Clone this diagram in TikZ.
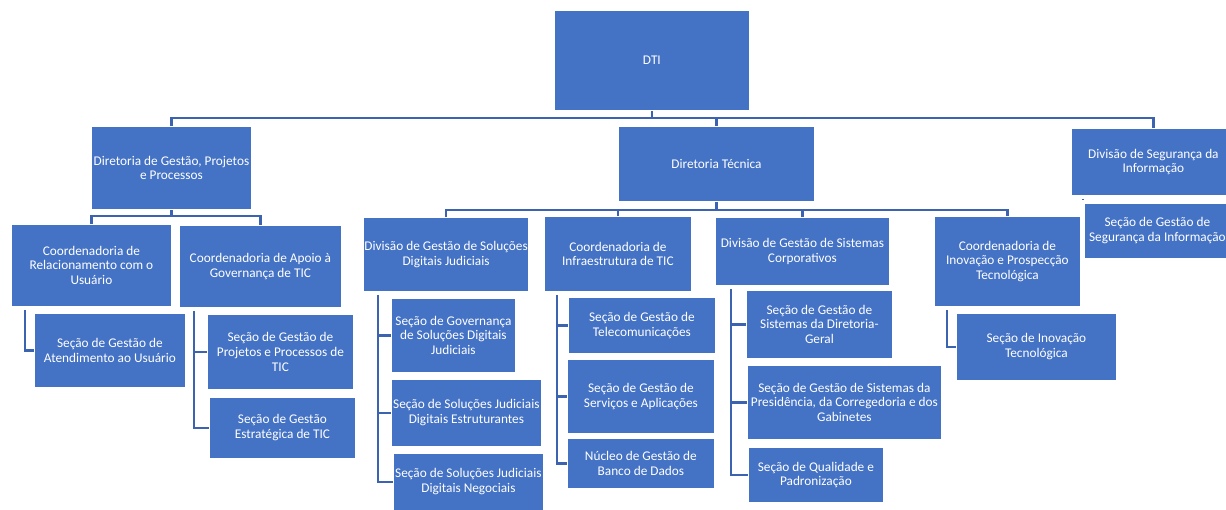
\documentclass[tikz,border=0pt]{standalone}
\usepackage{fontspec}
\setmainfont{Carlito}
\definecolor{boxblue}{HTML}{4472C4}
\definecolor{connblue}{HTML}{3B63AF}
\tikzset{
  box/.style={draw=white, line width=0.8pt, fill=boxblue, text=white, align=center,
    inner sep=1pt, anchor=north west, font=\fontsize{13.3}{14.8}\selectfont},
  conn/.style={draw=connblue, line width=2.2pt}
}
\newcommand\bx[6]{\node[box, minimum width=#4pt, minimum height=#5pt] (#1) at (#2,#3) {#6};}
\begin{document}
\begin{tikzpicture}[x=1pt,y=-1pt]
\useasboundingbox (0,0) rectangle (1226,509);
\fill[white] (0,0) rectangle (1226,509);
\clip (0,0) rectangle (1226,509);
% level 1
\bx{dti}{554}{10}{195}{100}{DTI}
% level 2
\bx{dg}{91}{126}{160}{83}{Diretoria de Gestão, Projetos\\e Processos}
\bx{dt}{618}{126}{196}{75}{Diretoria Técnica}
\bx{ds}{1071}{128}{164}{67}{Divisão de Segurança da\\Informação}
% under Diretoria de Gestão
\bx{cr}{11}{224}{160}{82}{Coordenadoria de\\Relacionamento com o\\Usuário}
\bx{ca}{179}{225}{162}{82}{Coordenadoria de Apoio à\\Governança de TIC}
\bx{sa}{34}{313}{151}{74}{Seção de Gestão de\\Atendimento ao Usuário}
\bx{sp}{207}{314}{146}{75}{Seção de Gestão de\\Projetos e Processos de\\TIC}
\bx{se}{209}{397}{146}{61}{Seção de Gestão\\Estratégica de TIC}
% under Diretoria Técnica
\bx{dj}{363}{217}{165}{74}{Divisão de Gestão de Soluções\\Digitais Judiciais}
\bx{ci}{544}{216}{147}{75}{Coordenadoria de\\Infraestrutura de TIC}
\bx{dc}{715}{217}{174}{68}{Divisão de Gestão de Sistemas\\Corporativos}
\bx{cp}{934}{216}{146}{90}{Coordenadoria de\\Inovação e Prospecção\\Tecnológica}
\bx{sg}{391}{298}{124}{74}{Seção de Governança\\de Soluções Digitais\\Judiciais}
\bx{sj}{391}{379}{150}{67}{Seção de Soluções Judiciais\\Digitais Estruturantes}
\bx{sn}{393}{453}{150}{57}{Seção de Soluções Judiciais\\Digitais Negociais}
\bx{st}{568}{297}{147}{56}{Seção de Gestão de\\Telecomunicações}
\bx{sv}{567}{359}{147}{74}{Seção de Gestão de\\Serviços e Aplicações}
\bx{nb}{567}{438}{147}{50}{Núcleo de Gestão de\\Banco de Dados}
\bx{sd}{746}{290}{146}{68}{Seção de Gestão de\\Sistemas da Diretoria-\\Geral}
\bx{spr}{747}{365}{194}{74}{Seção de Gestão de Sistemas da\\Presidência, da Corregedoria e dos\\Gabinetes}
\bx{sq}{748}{447}{135}{55}{Seção de Qualidade e\\Padronização}
\bx{si}{956}{313}{160}{67}{Seção de Inovação\\Tecnológica}
% under Divisão de Segurança
\bx{ss}{1084}{203}{146}{55}{Seção de Gestão de\\Segurança da Informação}
% connectors: top bus
\draw[conn] (dti.south) -- (dti.south |- 0,118);
\draw[conn] (dg.north) -- (dg.north |- 0,118) -| (ds.north);
\draw[conn] (dt.north) -- (dt.north |- 0,118);
% Diretoria de Gestão bus
\draw[conn] (dg.south) -- (dg.south |- 0,216);
\draw[conn] (cr.north) -- (cr.north |- 0,216) -| (ca.north);
% Diretoria Técnica bus
\draw[conn] (dt.south) -- (dt.south |- 0,210);
\draw[conn] (dj.north) -- (dj.north |- 0,210) -| (cp.north);
\draw[conn] (ci.north) -- (ci.north |- 0,210);
\draw[conn] (dc.north) -- (dc.north |- 0,210);
% side trunks
\coordinate (crT) at ([xshift=14pt,yshift=-3pt]cr.south west);
\draw[conn] (crT) |- (sa.west);
\coordinate (caT) at ([xshift=15pt,yshift=-3pt]ca.south west);
\draw[conn] (caT) |- (se.west);
\draw[conn] (caT |- sp.west) -- (sp.west);
\coordinate (djT) at ([xshift=15pt,yshift=-3pt]dj.south west);
\draw[conn] (djT) |- (sn.west);
\draw[conn] (djT |- sg.west) -- (sg.west);
\draw[conn] (djT |- sj.west) -- (sj.west);
\coordinate (ciT) at ([xshift=13pt,yshift=-3pt]ci.south west);
\draw[conn] (ciT) |- (nb.west);
\draw[conn] (ciT |- st.west) -- (st.west);
\draw[conn] (ciT |- sv.west) -- (sv.west);
\coordinate (dcT) at ([xshift=16pt,yshift=-3pt]dc.south west);
\draw[conn] (dcT) |- (sq.west);
\draw[conn] (dcT |- sd.west) -- (sd.west);
\draw[conn] (dcT |- spr.west) -- (spr.west);
\coordinate (cpT) at ([xshift=13pt,yshift=-3pt]cp.south west);
\draw[conn] (cpT) |- (si.west);
\coordinate (dsT) at ([xshift=12pt,yshift=-3pt]ds.south west);
\coordinate (ssT) at ([xshift=-1pt,yshift=3pt]ss.north west);
\draw[conn, line width=1.6pt] (dsT) -- (dsT |- ssT);
\end{tikzpicture}
\end{document}
